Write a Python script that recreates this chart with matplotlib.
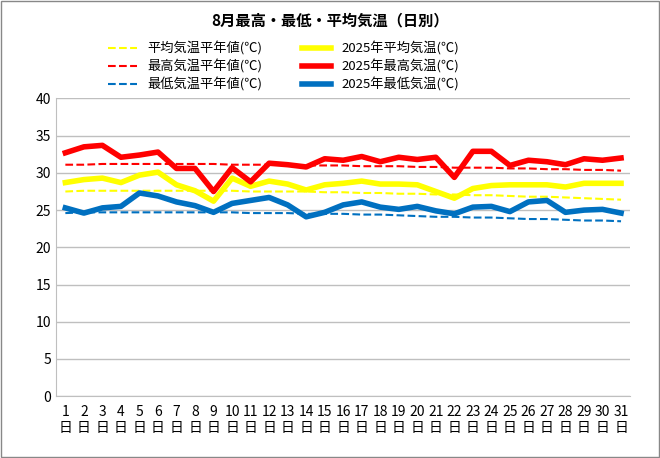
import numpy as np
import matplotlib.pyplot as plt

plt.rcParams['font.family'] = 'Noto Sans CJK JP'

days = np.arange(1, 32)
day_labels = [f"{d}\n日" for d in days]

max_2025 = [32.7, 33.5, 33.7, 32.1, 32.4, 32.8, 30.6, 30.6, 27.5, 30.7, 28.8, 31.3, 31.1, 30.8, 31.9, 31.7,
            32.2, 31.5, 32.1, 31.8, 32.1, 29.4, 32.9, 32.9, 31.0, 31.7, 31.5, 31.1, 31.9, 31.7, 32.0]
avg_2025 = [28.7, 29.1, 29.3, 28.7, 29.7, 30.1, 28.4, 27.6, 26.2, 29.3, 28.2, 28.9, 28.5, 27.7, 28.4, 28.6,
            28.9, 28.5, 28.5, 28.4, 27.5, 26.6, 27.9, 28.3, 28.4, 28.4, 28.4, 28.1, 28.6, 28.6, 28.6]
min_2025 = [25.3, 24.6, 25.3, 25.5, 27.3, 26.9, 26.1, 25.6, 24.7, 25.9, 26.3, 26.7, 25.7, 24.1, 24.7, 25.7,
            26.1, 25.4, 25.1, 25.5, 24.9, 24.5, 25.4, 25.5, 24.8, 26.1, 26.3, 24.7, 25.0, 25.1, 24.6]
max_norm = [31.1, 31.1, 31.2, 31.2, 31.2, 31.2, 31.2, 31.2, 31.2, 31.1, 31.1, 31.1, 31.1, 31.0, 31.0, 31.0,
            30.9, 30.9, 30.9, 30.8, 30.8, 30.7, 30.7, 30.7, 30.6, 30.6, 30.5, 30.5, 30.4, 30.4, 30.3]
avg_norm = [27.5, 27.6, 27.6, 27.6, 27.6, 27.6, 27.6, 27.6, 27.6, 27.6, 27.5, 27.5, 27.5, 27.5, 27.4, 27.4,
            27.3, 27.3, 27.2, 27.2, 27.1, 27.1, 27.0, 27.0, 26.9, 26.8, 26.8, 26.7, 26.6, 26.5, 26.4]
min_norm = [24.6, 24.7, 24.7, 24.7, 24.7, 24.7, 24.7, 24.7, 24.7, 24.7, 24.6, 24.6, 24.6, 24.5, 24.5, 24.5,
            24.4, 24.4, 24.3, 24.2, 24.1, 24.1, 24.0, 24.0, 23.9, 23.8, 23.8, 23.7, 23.6, 23.6, 23.5]

fig = plt.figure(figsize=(6.6, 4.58), dpi=100)
ax = fig.add_axes([0.085, 0.135, 0.87, 0.65])
fig.patches.append(plt.Rectangle((0.002, 0.002), 0.996, 0.996, transform=fig.transFigure,
                                 fill=False, edgecolor='#888888', linewidth=1))

l1, = ax.plot(days, avg_norm, '--', color='#ffff00', lw=1.5, label='平均気温平年値(℃)')
l2, = ax.plot(days, avg_2025, '-', color='#ffff00', lw=4, label='2025年平均気温(℃)')
l3, = ax.plot(days, max_norm, '--', color='#ff0000', lw=1.5, label='最高気温平年値(℃)')
l4, = ax.plot(days, max_2025, '-', color='#ff0000', lw=4, label='2025年最高気温(℃)')
l5, = ax.plot(days, min_norm, '--', color='#0070c0', lw=1.5, label='最低気温平年値(℃)')
l6, = ax.plot(days, min_2025, '-', color='#0070c0', lw=4, label='2025年最低気温(℃)')

ax.set_xlim(0.5, 31.5)
ax.set_ylim(0, 40)
ax.set_yticks(range(0, 41, 5))
ax.set_xticks(days)
ax.set_xticklabels(day_labels, fontsize=10)
ax.tick_params(axis='y', labelsize=10, length=0)
ax.tick_params(axis='x', length=0, pad=6)
ax.grid(axis='y', color='#bfbfbf', lw=1)
ax.set_axisbelow(True)
for s in ['top', 'right']:
    ax.spines[s].set_visible(False)
ax.spines['left'].set_color('#bfbfbf')
ax.spines['bottom'].set_color('#bfbfbf')

fig.text(0.5, 0.955, '8月最高・最低・平均気温（日別）', ha='center', va='center', fontsize=11, fontweight='bold')
fig.legend(handles=[l1, l3, l5, l2, l4, l6], loc='upper center', bbox_to_anchor=(0.43, 0.935),
           ncol=2, frameon=False, fontsize=9.5, handlelength=2.2, columnspacing=3, labelspacing=0.3)

fig.savefig('out.png')
